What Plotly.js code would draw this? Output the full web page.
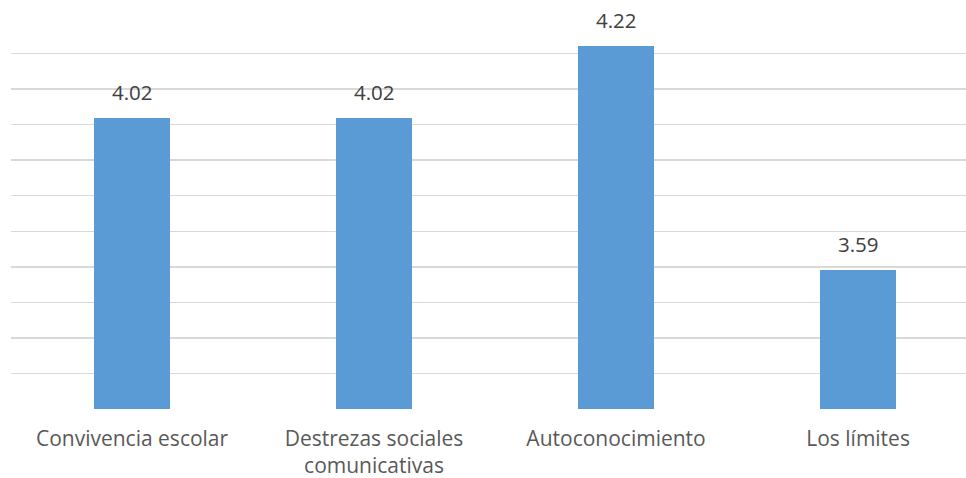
<!DOCTYPE html>
<html>
<head>
<meta charset="utf-8">
<script src="https://cdn.plot.ly/plotly-3.0.1.min.js"></script>
<style>
html,body{margin:0;padding:0;background:#fff;}
#chart{width:966px;height:478px;}
</style>
</head>
<body>
<div id="chart"></div>
<script>
const categories = ["Convivencia escolar", "Destrezas sociales<br>comunicativas", "Autoconocimiento", "Los límites"];
const values = [4.02, 4.02, 4.22, 3.59];
const valueLabels = ["4.02", "4.02", "4.22", "3.59"];

const FONT = "'Open Sans', sans-serif";

const trace = {
  type: "bar",
  x: [0, 1, 2, 3],
  y: values,
  marker: {color: "#5B9BD5"},
  width: 0.314,
  hoverinfo: "none"
};

const annotations = values.map((v, i) => ({
  x: i, y: v, xref: "x", yref: "y",
  text: valueLabels[i],
  showarrow: false,
  yanchor: "bottom",
  yshift: 10,
  font: {family: FONT, size: 20.5, color: "#404040"}
}));

const layout = {
  width: 966, height: 478,
  margin: {l: 11, r: 0, t: 18, b: 69},
  paper_bgcolor: "#ffffff",
  plot_bgcolor: "#ffffff",
  showlegend: false,
  bargap: 0,
  xaxis: {
    range: [-0.5, 3.446],
    tickvals: [0, 1, 2, 3],
    ticktext: categories,
    showgrid: false,
    zeroline: false,
    showline: false,
    ticks: "",
    ticklabelstandoff: 15,
    tickfont: {family: FONT, size: 21, color: "#595959"},
    fixedrange: true
  },
  yaxis: {
    range: [3.2, 4.3],
    dtick: 0.1,
    tick0: 3.2,
    showticklabels: false,
    showgrid: true,
    gridcolor: "#d9d9d9",
    gridwidth: 1.5,
    zeroline: false,
    showline: false,
    ticks: "",
    fixedrange: true
  },
  annotations: annotations
};

Plotly.newPlot("chart", [trace], layout, {displayModeBar: false, staticPlot: true});
</script>
</body>
</html>
